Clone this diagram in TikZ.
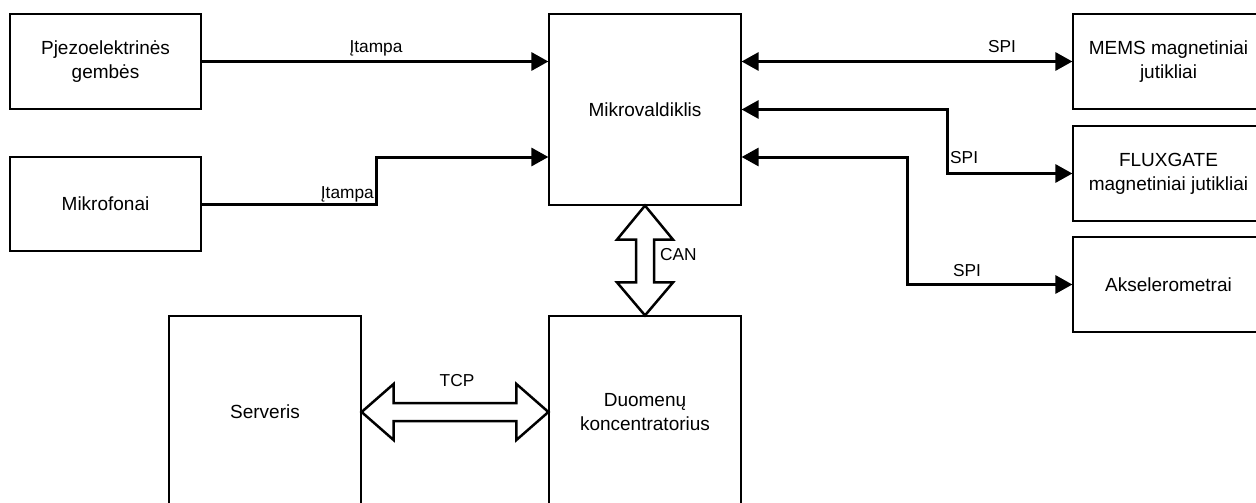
\documentclass[tikz,border=0pt]{standalone}
\usepackage{fontspec}
\setmainfont{Liberation Sans}
\usetikzlibrary{arrows.meta,calc}
\begin{document}
\begin{tikzpicture}[x=1pt,y=-1pt,
  box/.style={draw, line width=1.2pt, minimum width=192pt, minimum height=95pt, inner sep=0pt, align=center, font=\fontsize{19}{24}\selectfont},
  lbl/.style={font=\fontsize{17.3}{20}\selectfont, inner sep=0pt},
  conn/.style={line width=3pt, -{Triangle[length=17pt,width=18pt]}},
  bconn/.style={line width=3pt, {Triangle[length=17pt,width=18pt]}-{Triangle[length=17pt,width=18pt]}},
  flex/.style={line width=2.5pt, fill=white, line join=miter}
]
\useasboundingbox (0,0) rectangle (1256,503);
\clip (0,0) rectangle (1256,503);

% boxes
\node[box, minimum width=191pt] (pj) at (105.5,61.5) {Pjezoelektrinės\\gembės};
\node[box, minimum width=191pt, minimum height=94pt] (mf) at (105.5,204) {Mikrofonai};
\node[box, minimum height=191pt] (mk) at (645,109.5) {Mikrovaldiklis};
\node[box, minimum width=191pt] (mems) at (1168.5,61.5) {MEMS magnetiniai\\jutikliai};
\node[box, minimum width=191pt] (fg) at (1168.5,173.5) {FLUXGATE\\magnetiniai jutikliai};
\node[box, minimum width=191pt] (ak) at (1168.5,284.5) {Akselerometrai};
\node[box, minimum height=192pt] (sv) at (265,412) {Serveris};
\node[box, minimum height=192pt] (dc) at (645,412) {Duomenų\\koncentratorius};

% inputs
\draw[conn] (pj.east) -- (pj.east -| mk.west);
\node[lbl, anchor=base] (l1) at (376,53) {Įtampa};
\coordinate (mkin2) at ($(mk.west)+(0,47.5)$);
\draw[conn] (mf.east) -- (376,204) |- (mkin2);
\node[lbl, anchor=base east] (l2) at (374,198) {Įtampa};

% SPI links
\draw[bconn] (mk.east |- mems.west) -- (mems.west);
\node[lbl, anchor=base] (l3) at (1002,53) {SPI};
\draw[bconn] (mk.east) -- (947,109.5) |- (fg.west);
\node[lbl, anchor=base west] (l4) at (950,163) {SPI};
\coordinate (mkout3) at ($(mk.east)+(0,47.5)$);
\draw[bconn] (mkout3) -- (907,157) |- (ak.west);
\node[lbl, anchor=base] (l5) at (967,276) {SPI};

% CAN flex arrow
\draw[flex] (mk.south) -- ($(mk.south)+(28,34)$) -- ($(mk.south)+(9,34)$)
  -- ($(dc.north)+(9,-33)$) -- ($(dc.north)+(28,-33)$) -- (dc.north)
  -- ($(dc.north)+(-28,-33)$) -- ($(dc.north)+(-9,-33)$)
  -- ($(mk.south)+(-9,34)$) -- ($(mk.south)+(-28,34)$) -- cycle;
\node[lbl, anchor=base west] (l6) at (660,260) {CAN};

% TCP flex arrow
\draw[flex] (sv.east) -- ($(sv.east)+(32,-28)$) -- ($(sv.east)+(32,-9)$)
  -- ($(dc.west)+(-32,-9)$) -- ($(dc.west)+(-32,-28)$) -- (dc.west)
  -- ($(dc.west)+(-32,28)$) -- ($(dc.west)+(-32,9)$)
  -- ($(sv.east)+(32,9)$) -- ($(sv.east)+(32,28)$) -- cycle;
\node[lbl, anchor=base] (l7) at (457,386) {TCP};
\end{tikzpicture}
\end{document}
